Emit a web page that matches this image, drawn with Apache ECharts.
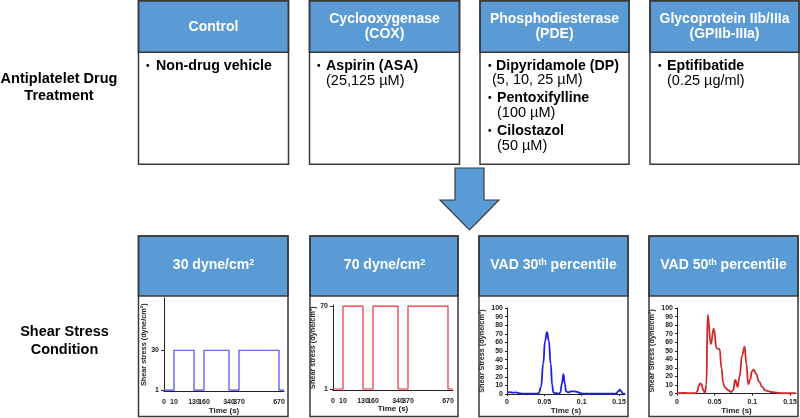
<!DOCTYPE html>
<html><head><meta charset="utf-8">
<script src="https://cdn.jsdelivr.net/npm/echarts@6/dist/echarts.min.js"></script>
<style>html,body{margin:0;padding:0;background:#fff}#c{width:800px;height:418px}</style>
</head><body><div id="c"></div>
<script>
// ---------- data ----------
const stepTimeLabels = ['0','','10','','','','130','','160','','','','','340','','370','','','','','','','','670',''];
const shear30 = [1,1,30,30,30,30,1,1,30,30,30,30,30,1,1,30,30,30,30,30,30,30,30,1,1];
const shear70 = [1,1,70,70,70,70,1,1,70,70,70,70,70,1,1,70,70,70,70,70,70,70,70,1,1];
const stepTicks30 = [1, 30];
const stepTicks70 = [1, 70];

const vad30Time   = [0,0.004,0.008,0.012,0.016,0.02,0.03,0.04,0.0425,0.0455,0.0485,0.051,0.0535,0.056,0.0585,0.0605,0.062,0.065,0.07,0.0715,0.0735,0.0755,0.0775,0.079,0.082,0.086,0.09,0.094,0.098,0.102,0.11,0.12,0.13,0.14,0.146,0.149,0.151,0.153,0.155,0.158];
const vad30Stress = [2,2.2,1.5,2,1,0.5,0.5,0.5,1,8,35,62,72,62,35,10,2,1,0.5,2,12,23,12,3,2,3,3,2.5,1,0.5,0.3,0.5,0.3,0.3,0.5,3,5,3,0.5,0.3];

const vad50Time   = [0,0.01,0.02,0.025,0.027,0.029,0.0305,0.0325,0.035,0.037,0.039,0.0407,0.045,0.0487,0.0527,0.0566,0.059,0.0615,0.064,0.068,0.072,0.0745,0.0774,0.0805,0.083,0.0865,0.0898,0.092,0.0947,0.097,0.0995,0.1017,0.105,0.109,0.113,0.117,0.121,0.125,0.13,0.135,0.14,0.158];
const vad50Stress = [0.5,0.8,0.5,0.5,3,9,12,11,4,0.5,10,92,58,76,53,52,30,12,7,4,2,4,16,8,20,45,55,35,11,16,26,28,23,14,8,4,3,2,1.5,1,0.5,0.5];
const vadXTicks = [0, 0.05, 0.1, 0.15];

// ---------- styling ----------
const FF = 'Liberation Sans, Arial, sans-serif';
const BLUE = '#5B9BD5';
const BORDER = '#3a3a3a';
const AX = '#222';

function pairs(t, v) { return t.map((x, i) => [x, v[i]]); }

const g = [];
function box(x, y, w, h, hh) {
  g.push({type:'rect', z:1, shape:{x, y, width:w, height:hh}, style:{fill:BLUE, stroke:BORDER, lineWidth:1.5}});
  g.push({type:'rect', z:1, shape:{x, y, width:w, height:h}, style:{fill:'none', stroke:BORDER, lineWidth:1.5}});
}
function txt(x, y, text, font, fill, align, extra) {
  g.push({type:'text', z:10, style:Object.assign({x, y, text, font, fill:fill||'#000', align:align||'left', verticalAlign:'middle', lineHeight:15}, extra||{})});
}
const HB = 'bold 14px ' + FF;
const BB = 'bold 14.2px ' + FF;
const BN = '14.5px ' + FF;

// top row boxes
box(138.5, 0.75, 150, 163.5, 51.5);
box(309.5, 0.75, 150, 163.5, 51.5);
box(480, 0.75, 149, 163.5, 51.5);
box(650, 0.75, 149, 163.5, 51.5);
// bottom row boxes
box(138.5, 236, 149.5, 180.5, 60);
box(310, 236, 148, 180.5, 60);
box(479, 236, 149, 180.5, 60);
box(649, 236, 149, 180.5, 60);

// arrow
g.push({type:'polygon', z:1, shape:{points:[[455,168],[484,168],[484,200],[499,200],[469.5,230],[440,200],[455,200]]}, style:{fill:BLUE, stroke:BORDER, lineWidth:1.2}});

// left labels
txt(59, 79, 'Antiplatelet Drug', 'bold 14.5px ' + FF, '#000', 'center');
txt(59, 96, 'Treatment', 'bold 14.5px ' + FF, '#000', 'center');
txt(64.5, 332, 'Shear Stress', 'bold 14.5px ' + FF, '#000', 'center');
txt(64.5, 350, 'Condition', 'bold 14.5px ' + FF, '#000', 'center');

// top headers
txt(213.5, 27, 'Control', HB, '#fff', 'center');
txt(384.5, 19, 'Cyclooxygenase', HB, '#fff', 'center');
txt(384.5, 34, '(COX)', HB, '#fff', 'center');
txt(554.5, 19, 'Phosphodiesterase', HB, '#fff', 'center');
txt(554.5, 34, '(PDE)', HB, '#fff', 'center');
txt(724.5, 19, 'Glycoprotein IIb/IIIa', HB, '#fff', 'center');
txt(724.5, 34, '(GPIIb-IIIa)', HB, '#fff', 'center');

// bullets
const BUL = 'bold 10px ' + FF;
txt(146, 66, '•', BUL); txt(156, 66, 'Non-drug vehicle', BB);
txt(317, 66, '•', BUL); txt(326, 66, 'Aspirin (ASA)', BB); txt(326, 81, '(25,125 µM)', BN);
txt(488, 66, '•', BUL); txt(496, 66, 'Dipyridamole (DP)', BB); txt(492, 80, '(5, 10, 25 µM)', BN);
txt(488, 98, '•', BUL); txt(497, 98, 'Pentoxifylline', BB); txt(497, 113, '(100 µM)', BN);
txt(488, 131, '•', BUL); txt(497, 131, 'Cilostazol', BB); txt(497, 146, '(50 µM)', BN);
txt(658, 66, '•', BUL); txt(667, 66, 'Eptifibatide', BB); txt(667, 81, '(0.25 µg/ml)', BN);

// bottom headers with superscripts
const richH = {
  a:{fontSize:14, fontWeight:'bold', fontFamily:FF, fill:'#fff'},
  s:{fontSize:9, fontWeight:'bold', fontFamily:FF, fill:'#fff', verticalAlign:'top'}
};
function rtxt(x, y, text) {
  g.push({type:'text', z:10, style:{x, y, text, align:'center', verticalAlign:'middle', rich:richH}});
}
rtxt(213.5, 265, '{a|30 dyne/cm}{s|2}');
rtxt(384.5, 265, '{a|70 dyne/cm}{s|2}');
rtxt(553.5, 265, '{a|VAD 30}{s|th}{a| percentile}');
rtxt(723.5, 265, '{a|VAD 50}{s|th}{a| percentile}');

// ---------- axes ----------
const tickFont = {fontSize:7, fontWeight:'bold', fontFamily:FF, color:AX};
const nameFont = {fontSize:7.3, fontWeight:'bold', fontFamily:FF, color:AX};
const timeFont = {fontSize:8, fontWeight:'bold', fontFamily:FF, color:AX};
const axLine = {show:true, lineStyle:{color:AX, width:1}};

const grids = [
  {left:164, top:298, width:120, height:93.5},
  {left:333, top:305, width:120, height:85.2},
  {left:507, top:308, width:118, height:86},
  {left:677, top:308, width:119, height:85.7}
];

function stepX(i) {
  return {type:'category', gridIndex:i, data:stepTimeLabels, boundaryGap:false,
    axisLine:axLine, axisTick:{show:false},
    axisLabel:Object.assign({interval:0, margin:7}, tickFont),
    name:'Time (s)', nameLocation:'middle', nameGap:14, nameTextStyle:timeFont};
}
function stepY(i, max, ticks) {
  return {type:'value', gridIndex:i, min:0, max:max, splitLine:{show:false},
    axisLine:axLine,
    axisTick:{show:true, length:3, customValues:ticks, lineStyle:{color:AX}},
    axisLabel:Object.assign({customValues:ticks, margin:5}, tickFont),
    name:'Shear stress (dyne/cm²)', nameLocation:'middle', nameRotate:90, nameGap:16, nameTextStyle:nameFont};
}
function vadX(i) {
  return {type:'value', gridIndex:i, min:0, max:0.158, splitLine:{show:false},
    axisLine:axLine,
    axisTick:{show:true, length:2, customValues:vadXTicks, lineStyle:{color:AX}},
    axisLabel:Object.assign({customValues:vadXTicks, margin:5}, tickFont),
    name:'Time (s)', nameLocation:'middle', nameGap:12, nameTextStyle:timeFont};
}
function vadY(i) {
  return {type:'value', gridIndex:i, min:0, max:100, interval:10, splitLine:{show:false},
    axisLine:axLine,
    axisTick:{show:true, length:2, lineStyle:{color:AX}},
    axisLabel:Object.assign({margin:4, hideOverlap:false}, tickFont),
    name:'Shear Stress (dyne/cm²)', nameLocation:'middle', nameRotate:90, nameGap:22, nameTextStyle:nameFont};
}

const option = {
  animation:false,
  backgroundColor:'#fff',
  grid:grids,
  xAxis:[stepX(0), stepX(1), vadX(2), vadX(3)],
  yAxis:[stepY(0, 68, stepTicks30), stepY(1, 71, stepTicks70), vadY(2), vadY(3)],
  series:[
    {type:'line', xAxisIndex:0, yAxisIndex:0, data:shear30, step:'end', symbol:'none', lineStyle:{color:'#4646ff', width:1.2}, z:5},
    {type:'line', xAxisIndex:1, yAxisIndex:1, data:shear70, step:'end', symbol:'none', lineStyle:{color:'#e8303a', width:1.2}, z:5},
    {type:'line', xAxisIndex:2, yAxisIndex:2, data:pairs(vad30Time, vad30Stress), smooth:0.5, smoothMonotone:'x', symbol:'none', lineStyle:{color:'#1f1fe0', width:1.8}, z:5},
    {type:'line', xAxisIndex:3, yAxisIndex:3, data:pairs(vad50Time, vad50Stress), smooth:0.5, smoothMonotone:'x', symbol:'none', lineStyle:{color:'#d02828', width:1.8}, z:5}
  ],
  graphic:{elements:g}
};
const chart = echarts.init(document.getElementById('c'), null, {renderer:'canvas'});
chart.setOption(option);
</script></body></html>
